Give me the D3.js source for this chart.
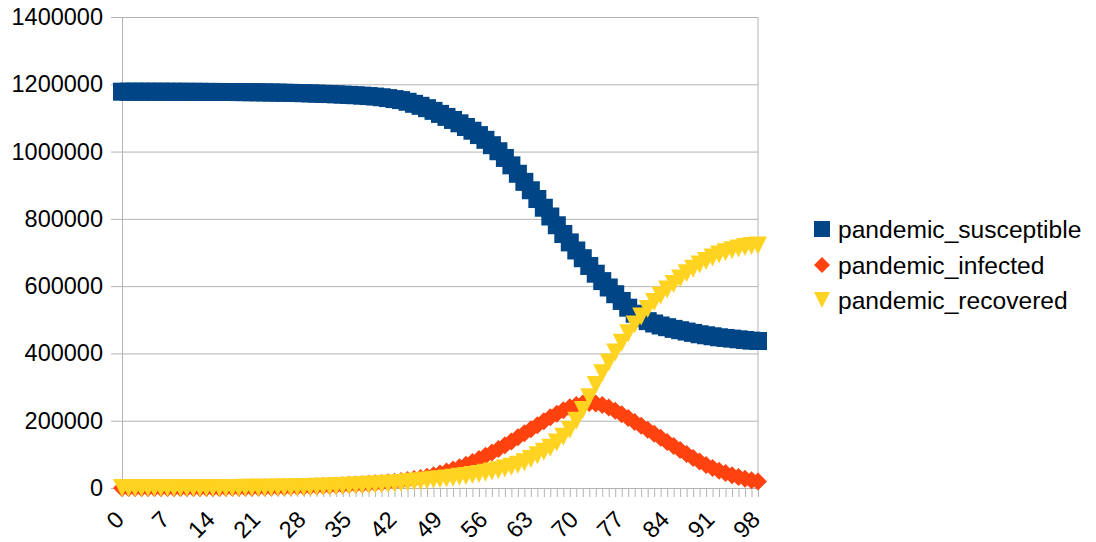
<!DOCTYPE html>
<html><head><meta charset="utf-8">
<script src="https://cdn.jsdelivr.net/npm/d3@7/dist/d3.min.js"></script>
<style>
body{margin:0;background:#fff;}
svg{display:block;font-family:"Liberation Sans",Arial,sans-serif;}
</style></head><body>
<svg id="c" width="1096" height="542"></svg>
<script>
const days = [0,1,2,3,4,5,6,7,8,9,10,11,12,13,14,15,16,17,18,19,20,21,22,23,24,25,26,27,28,29,30,31,32,33,34,35,36,37,38,39,40,41,42,43,44,45,46,47,48,49,50,51,52,53,54,55,56,57,58,59,60,61,62,63,64,65,66,67,68,69,70,71,72,73,74,75,76,77,78,79,80,81,82,83,84,85,86,87,88,89,90,91,92,93,94,95,96,97,98];
const xTickLabels = [0,7,14,21,28,35,42,49,56,63,70,77,84,91,98];
const yTicks = [0,200000,400000,600000,800000,1000000,1200000,1400000];
const seriesNames = ["pandemic_susceptible","pandemic_infected","pandemic_recovered"];

const susceptible = [1178000,1178000,1178000,1178000,1177900,1177900,1177900,1177800,1177800,1177700,
1177700,1177600,1177500,1177400,1177300,1177200,1177100,1177000,1176800,1176600,
1176400,1176200,1175900,1175600,1175300,1174900,1174500,1174000,1173500,1172900,
1172300,1171600,1170900,1170100,1169300,1168400,1167400,1166300,1165000,1163500,
1161500,1159000,1156000,1153000,1148000,1142000,1136000,1129000,1121000,1112000,
1103000,1094000,1084000,1073000,1062000,1049000,1035000,1019000,1001000,981000,
959000,934000,910000,885000,859000,833000,807000,781000,755000,730000,
706000,683000,660000,637000,615000,596000,576000,556000,536000,518000,
505000,496000,489000,483000,478000,473000,469000,465000,461000,457000,
454000,451000,448000,446000,444000,442000,440000,438000,437000];

const infected = [10,12,15,19,24,30,38,48,60,76,
96,120,150,190,240,300,380,470,590,740,
920,1150,1420,1750,2100,2500,2950,3450,4000,4700,
5500,6100,6800,7600,8500,9400,10400,11500,12600,13800,
15000,16800,18800,21100,23700,26700,30000,33800,38200,43200,
48800,55000,61800,69200,77300,86000,95500,105500,116000,127000,
138500,150500,162500,174500,186500,198500,210000,221000,231000,240000,
247000,251500,253000,251500,246500,239000,229500,219000,208000,196500,
185000,173000,161000,149000,137000,125000,113000,101000,89500,78500,
68500,59500,51500,44500,38000,32500,27500,23000,19500];

const recovered = [0,2,4,7,10,14,19,25,33,43,
55,70,90,115,145,185,235,295,370,460,
570,700,860,1050,1270,1530,1830,2180,2580,3030,
3530,4080,4680,5330,6030,6800,7600,8500,9450,10200,
11000,12300,13700,15200,16800,18500,20300,22200,24200,26300,
28500,30800,33200,35800,38600,41600,45000,48800,53000,57800,
63200,69400,76500,86000,97000,108000,120000,135000,152000,173000,
200000,232000,270000,306000,341000,373000,403000,432000,460000,486000,
510000,532000,553000,572000,590000,606000,623000,638000,652000,664000,
675000,685000,694000,701000,707000,712000,716000,719000,721000];

const colors = ["#004586","#ff420e","#ffd320"];
const shapes = [
  r => `M${-r},${-r}H${r}V${r}H${-r}Z`,
  r => `M0,${-r}L${r},0L0,${r}L${-r},0Z`,
  r => `M${-r},${-r}H${r}L0,${r}Z`
];
const seriesData = [susceptible, infected, recovered];

const svg = d3.select("#c");
const FS = 23.5;
const LFS = 24.6;
const x = d3.scalePoint().domain(days).range([122,758]);
const y = d3.scaleLinear().domain([0,1400000]).range([488,17]);
const grey = "#b3b3b3";

// grid
const grid = svg.append("g").attr("transform","translate(122,0)")
  .call(d3.axisLeft(y).tickValues(yTicks).tickSize(-(x(98)-x(0))).tickFormat(""));
grid.select(".domain").remove();
grid.selectAll("line").attr("stroke",grey);
grid.selectAll("text").remove();

// y axis with outer ticks & labels
const ya = svg.append("g").attr("transform","translate(122,0)")
  .call(d3.axisLeft(y).tickValues(yTicks).tickSize(11).tickPadding(8).tickFormat(d3.format("d")));
ya.select(".domain").attr("stroke",grey);
ya.selectAll("line").attr("stroke",grey);
ya.selectAll("text").attr("font-size",FS).attr("fill","#000").attr("font-family","Liberation Sans, Arial, sans-serif");

// right border
svg.append("line").attr("x1",x(98)).attr("x2",x(98)).attr("y1",y(1400000)).attr("y2",y(0)).attr("stroke",grey);

// x axis ticks (every category)
const xt = svg.append("g").attr("transform",`translate(0,${y(0)})`)
  .call(d3.axisBottom(x).tickValues(days).tickSize(9).tickSizeOuter(0).tickFormat(""));
xt.select(".domain").attr("stroke",grey);
xt.selectAll("line").attr("stroke",grey);
xt.selectAll("text").remove();

// x axis labels
const xa = svg.append("g").attr("transform",`translate(0,${y(0)})`)
  .call(d3.axisBottom(x).tickValues(xTickLabels).tickSize(0).tickFormat(d => String(d)));
xa.select(".domain").remove();
xa.selectAll("line").remove();
xa.selectAll("text").attr("font-size",FS).attr("fill","#000").attr("font-family","Liberation Sans, Arial, sans-serif")
  .attr("x",0).attr("y",0).attr("dy",0).attr("text-anchor","end")
  .attr("transform","translate(3,33) rotate(-45)");

// series
const R = 9;
seriesData.forEach((vals,k) => {
  svg.append("g").selectAll("path").data(vals).join("path")
    .attr("d", shapes[k](R))
    .attr("transform",(v,i) => `translate(${x(days[i])},${y(v)})`)
    .attr("fill",colors[k]);
});

// legend
const lg = svg.append("g");
const legY = [229,265,300];
seriesNames.forEach((n,k) => {
  lg.append("path").attr("d",shapes[k](8)).attr("transform",`translate(822,${legY[k]})`).attr("fill",colors[k]);
  lg.append("text").attr("x",838).attr("y",legY[k]).attr("dy","0.35em").attr("font-size",LFS).attr("fill","#000").text(n);
});
</script>
</body></html>
